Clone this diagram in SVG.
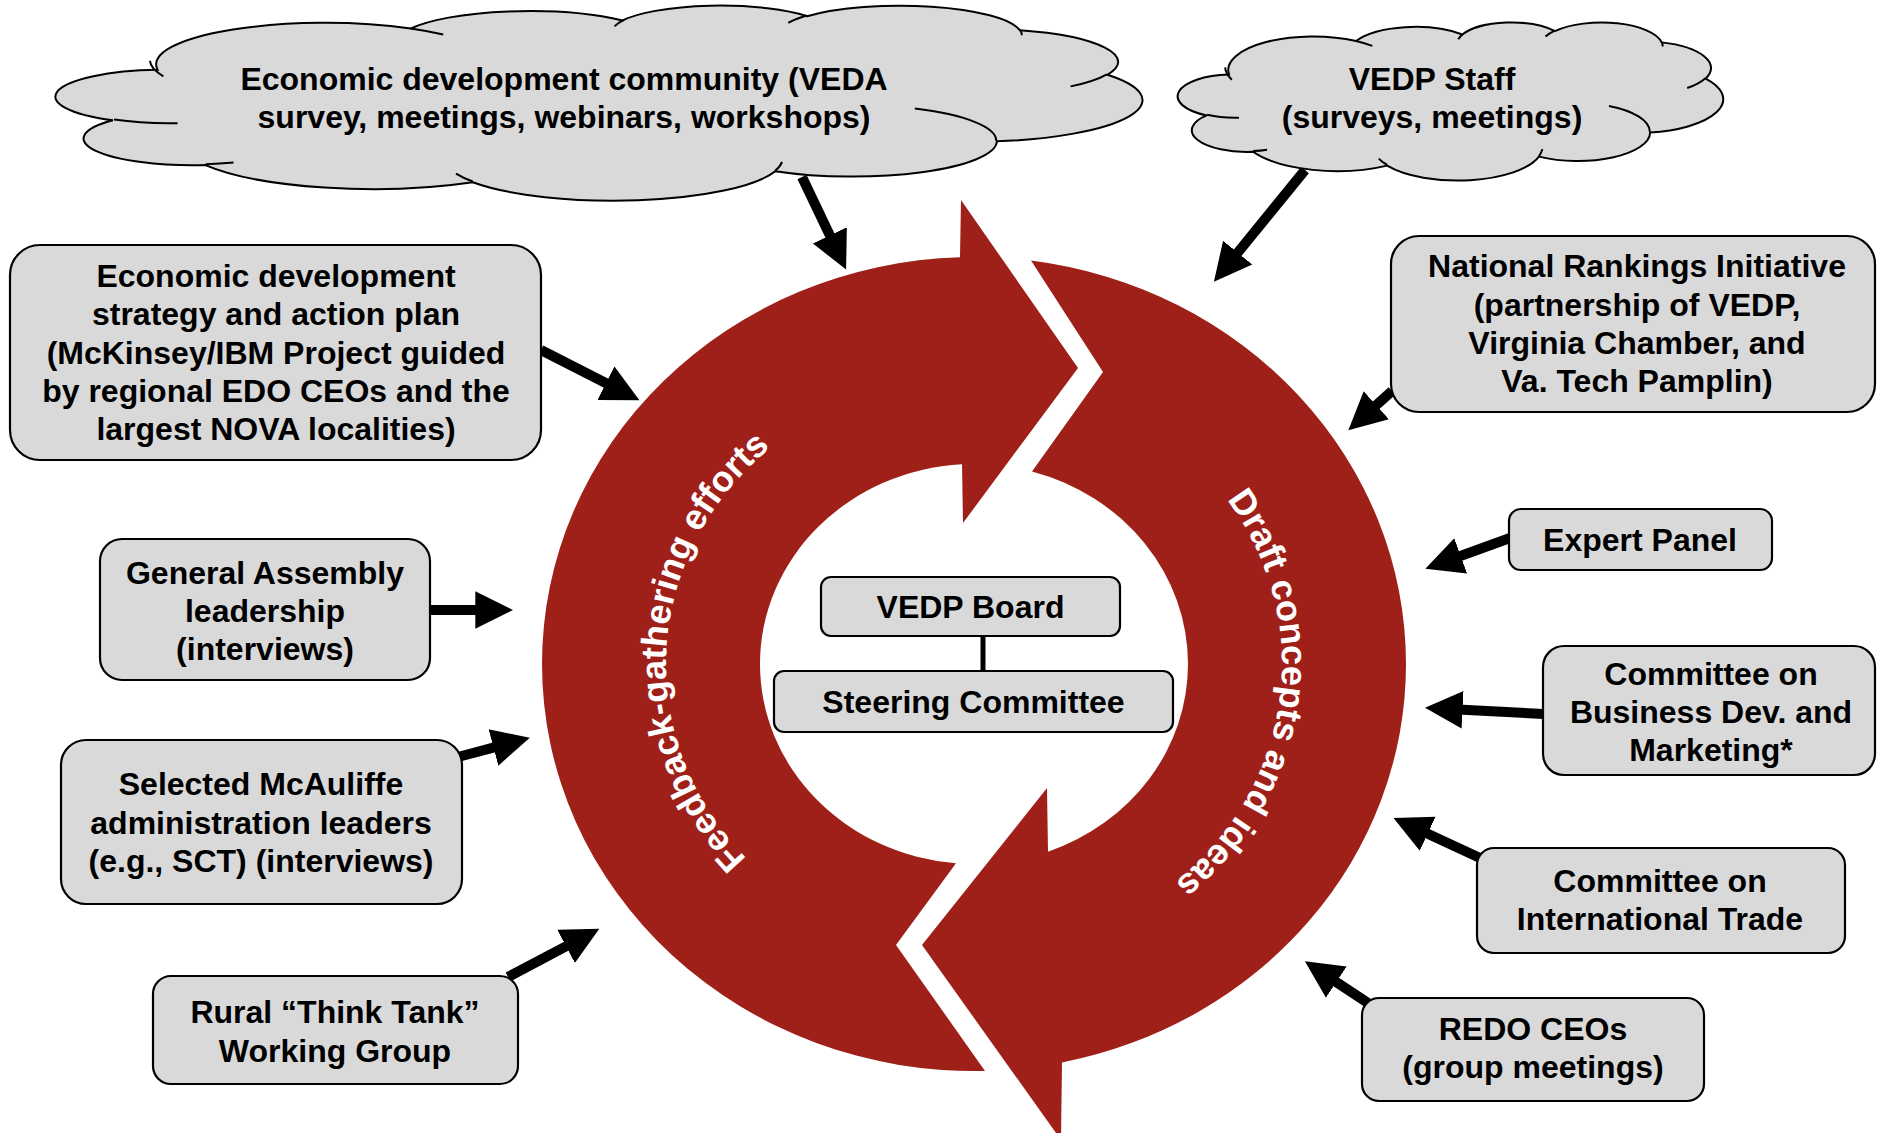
<svg xmlns="http://www.w3.org/2000/svg" width="1877" height="1133" viewBox="0 0 1877 1133">
  <defs>
    <style>
      .box { fill: #D9D9D9; stroke: #000; stroke-width: 2.2; }
      .cloud { fill: #D9D9D9; stroke: #000; stroke-width: 2; }
      .cloudline { fill: none; stroke: #000; stroke-width: 2; }
      .lbl { font-family: "Liberation Sans", Arial, sans-serif; font-weight: bold; font-size: 32px; text-anchor: middle; fill: #000; }
      .ring { fill: #9F2019; }
      .ringtxt { font-family: "Liberation Sans", Arial, sans-serif; font-weight: bold; font-size: 36px; fill: #fff; }
      .conn { fill: none; stroke: #000; stroke-width: 10; marker-end: url(#ah); }
    </style>
    <marker id="ah" markerUnits="userSpaceOnUse" markerWidth="40" markerHeight="40" viewBox="0 -17 34 34" refX="4" refY="0" orient="auto">
      <path d="M0,-16 L32,0 L0,16 Z" fill="#000"/>
    </marker>
    <!-- baselines for the curved ring labels -->
    <path id="pathFeedback" d="M957.9 951.6 A308 288 0 0 1 666.4 648.9 A308 288 0 0 1 990.1 376.4"/>
    <path id="pathDraft" d="M1011.5 378.1 A308 288 0 0 1 1279.7 699.1 A308 288 0 0 1 936.5 949.9"/>
  </defs>

  <rect width="1877" height="1133" fill="#fff"/>

  <!-- central cycle -->
  <g id="cycle">
    <path class="ring" d="M985 1070.9 A432 407 0 0 1 542 664 A432 407 0 0 1 960 257.2 L961 200 L1078 368 L963 523 L962 464.3 A214 200 0 0 0 760 664 A214 200 0 0 0 956 863.3 L896 945 Z"/>
    <path class="ring" d="M1031 260.6 A432 407 0 0 1 1406 664 A432 407 0 0 1 1062 1062.5 L1061 1140 L922 945 L1047 788 L1048 851.7 A214 200 0 0 0 1188 664 A214 200 0 0 0 1032 471.5 L1103 372 Z"/>
    <text class="ringtxt"><textPath href="#pathFeedback" startOffset="50%" text-anchor="middle">Feedback-gathering efforts</textPath></text>
    <text class="ringtxt"><textPath href="#pathDraft" startOffset="50%" text-anchor="middle">Draft concepts and ideas</textPath></text>
  </g>

  <!-- connectors -->
  <g id="connectors">
    <line class="conn" x1="802" y1="177" x2="831.9" y2="239.7"/>
    <line class="conn" x1="1305" y1="170" x2="1234.7" y2="256.3"/>
    <line class="conn" x1="541" y1="350" x2="610.1" y2="385.3"/>
    <line class="conn" x1="430" y1="610" x2="480" y2="610"/>
    <line class="conn" x1="458" y1="757" x2="498" y2="746.3"/>
    <line class="conn" x1="508" y1="977" x2="570.2" y2="944.1"/>
    <line class="conn" x1="1392" y1="391" x2="1372.8" y2="408.3"/>
    <line class="conn" x1="1510" y1="538" x2="1456.3" y2="557.5"/>
    <line class="conn" x1="1543" y1="714" x2="1457.9" y2="709.5"/>
    <line class="conn" x1="1480" y1="858" x2="1423.4" y2="831.8"/>
    <line class="conn" x1="1368" y1="1003" x2="1332.4" y2="979.5"/>
    <line x1="983" y1="636" x2="983" y2="671" stroke="#000" stroke-width="5"/>
  </g>

  <!-- clouds: outline drawn in a 43200 x 43200 unit box, strokes kept at screen width -->
  <g id="cloud-community">
    <g transform="translate(60 5) scale(0.025046 0.004514)">
      <path class="cloud" vector-effect="non-scaling-stroke" d="M3900 14370 A6753 9190 0 0 1 14005 5202 A5333 7267 0 0 1 22457 3429 A4365 5945 0 0 1 29833 2477 A4857 6595 0 0 1 38319 5571 A5333 7273 0 0 1 41819 15455 A6775 9220 0 0 1 37406 30200 A5785 7867 0 0 1 28558 36810 A6752 9215 0 0 1 16483 39263 A7720 10543 0 0 1 5807 35469 A4360 5918 0 0 1 2114 25550 A4345 5945 0 0 1 3900 14370 Z"/>
      <path class="cloudline" vector-effect="non-scaling-stroke" d="M4693 26177 A4345 5945 0 0 1 2159 25380 M6928 34899 A4360 5918 0 0 1 5820 35280 M16478 39090 A6752 9215 0 0 1 15810 37349 M28827 34751 A6752 9215 0 0 1 28561 36660 M34129 22954 A5785 7867 0 0 1 37381 30090 M41798 15354 A5333 7273 0 0 1 40350 18030 M38324 5426 A4857 6595 0 0 1 38400 6690 M29078 3952 A4857 6595 0 0 1 29820 2340 M22141 4720 A4365 5945 0 0 1 22500 3330 M14000 5192 A6753 9190 0 0 1 15300 6540 M4127 15789 A6753 9190 0 0 1 3592 12394"/>
    </g>
    <text class="lbl"><tspan x="564" y="90">Economic development community (VEDA</tspan><tspan x="564" y="128">survey, meetings, webinars, workshops)</tspan></text>
  </g>
  <g id="cloud-staff">
    <g transform="translate(1180 22) scale(0.012569 0.0036574)">
      <path class="cloud" vector-effect="non-scaling-stroke" d="M3900 14370 A6753 9190 0 0 1 14005 5202 A5333 7267 0 0 1 22457 3429 A4365 5945 0 0 1 29833 2477 A4857 6595 0 0 1 38319 5571 A5333 7273 0 0 1 41819 15455 A6775 9220 0 0 1 37406 30200 A5785 7867 0 0 1 28558 36810 A6752 9215 0 0 1 16483 39263 A7720 10543 0 0 1 5807 35469 A4360 5918 0 0 1 2114 25550 A4345 5945 0 0 1 3900 14370 Z"/>
      <path class="cloudline" vector-effect="non-scaling-stroke" d="M4693 26177 A4345 5945 0 0 1 2159 25380 M6928 34899 A4360 5918 0 0 1 5820 35280 M16478 39090 A6752 9215 0 0 1 15810 37349 M28827 34751 A6752 9215 0 0 1 28561 36660 M34129 22954 A5785 7867 0 0 1 37381 30090 M41798 15354 A5333 7273 0 0 1 40350 18030 M38324 5426 A4857 6595 0 0 1 38400 6690 M29078 3952 A4857 6595 0 0 1 29820 2340 M22141 4720 A4365 5945 0 0 1 22500 3330 M14000 5192 A6753 9190 0 0 1 15300 6540 M4127 15789 A6753 9190 0 0 1 3592 12394"/>
    </g>
    <text class="lbl"><tspan x="1432" y="90">VEDP Staff</tspan><tspan x="1432" y="128">(surveys, meetings)</tspan></text>
  </g>

  <!-- left-hand inputs -->
  <g id="node-strategy">
    <rect class="box" x="10" y="245" width="531" height="215" rx="30"/>
    <text class="lbl"><tspan x="276" y="287">Economic development</tspan><tspan x="276" y="325">strategy and action plan</tspan><tspan x="276" y="363.5">(McKinsey/IBM Project guided</tspan><tspan x="276" y="402">by regional EDO CEOs and the</tspan><tspan x="276" y="440">largest NOVA localities)</tspan></text>
  </g>
  <g id="node-assembly">
    <rect class="box" x="100" y="539" width="330" height="141" rx="22"/>
    <text class="lbl"><tspan x="265" y="584">General Assembly</tspan><tspan x="265" y="622">leadership</tspan><tspan x="265" y="660">(interviews)</tspan></text>
  </g>
  <g id="node-mcauliffe">
    <rect class="box" x="61" y="740" width="401" height="164" rx="25"/>
    <text class="lbl"><tspan x="261" y="795">Selected McAuliffe</tspan><tspan x="261" y="833.5">administration leaders</tspan><tspan x="261" y="872">(e.g., SCT) (interviews)</tspan></text>
  </g>
  <g id="node-rural">
    <rect class="box" x="153" y="976" width="365" height="108" rx="18"/>
    <text class="lbl"><tspan x="335" y="1023">Rural “Think Tank”</tspan><tspan x="335" y="1061.5">Working Group</tspan></text>
  </g>

  <!-- right-hand inputs -->
  <g id="node-rankings">
    <rect class="box" x="1391" y="236" width="484" height="176" rx="28"/>
    <text class="lbl"><tspan x="1637" y="277">National Rankings Initiative</tspan><tspan x="1637" y="315.5">(partnership of VEDP,</tspan><tspan x="1637" y="354">Virginia Chamber, and</tspan><tspan x="1637" y="392">Va. Tech Pamplin)</tspan></text>
  </g>
  <g id="node-expert">
    <rect class="box" x="1509" y="509" width="263" height="61" rx="12"/>
    <text class="lbl" x="1640" y="551">Expert Panel</text>
  </g>
  <g id="node-bizdev">
    <rect class="box" x="1543" y="646" width="332" height="129" rx="21"/>
    <text class="lbl"><tspan x="1711" y="685">Committee on</tspan><tspan x="1711" y="723">Business Dev. and</tspan><tspan x="1711" y="761">Marketing*</tspan></text>
  </g>
  <g id="node-trade">
    <rect class="box" x="1477" y="848" width="368" height="105" rx="17"/>
    <text class="lbl"><tspan x="1660" y="892">Committee on</tspan><tspan x="1660" y="930">International Trade</tspan></text>
  </g>
  <g id="node-redo">
    <rect class="box" x="1362" y="998" width="342" height="103" rx="17"/>
    <text class="lbl"><tspan x="1533" y="1040">REDO CEOs</tspan><tspan x="1533" y="1078">(group meetings)</tspan></text>
  </g>

  <!-- governance at the centre -->
  <g id="node-board">
    <rect class="box" x="821" y="577" width="299" height="59" rx="10"/>
    <text class="lbl" x="970.5" y="618">VEDP Board</text>
  </g>
  <g id="node-steering">
    <rect class="box" x="774" y="671" width="399" height="61" rx="10"/>
    <text class="lbl" x="973.5" y="713">Steering Committee</text>
  </g>
</svg>
